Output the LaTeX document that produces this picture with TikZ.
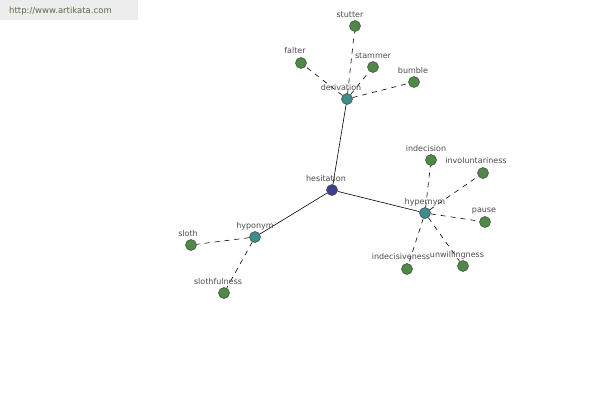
\documentclass[tikz,border=0pt]{standalone}
\usepackage{fontspec}
\setmainfont{DejaVu Sans}
\definecolor{leafgreen}{HTML}{4E8A46}
\definecolor{relteal}{HTML}{3E8C8C}
\definecolor{rootblue}{HTML}{3F3F8F}
\definecolor{urlgray}{HTML}{556B40}
\begin{document}
\begin{tikzpicture}[x=1pt,y=-1pt,
  dot/.style={circle,draw=black!75,line width=0.5pt,minimum size=11pt,inner sep=0pt},
  leaf/.style={dot,fill=leafgreen},
  rel/.style={dot,fill=relteal},
  root/.style={dot,fill=rootblue},
  lbl/.style={font=\fontsize{8}{9}\selectfont,text=black!70,inner sep=0pt},
  solidedge/.style={draw=black,line width=0.6pt},
  dashedge/.style={draw=black,line width=0.6pt,dash pattern=on 5pt off 5pt}]
\useasboundingbox (0,0) rectangle (600,400);
\fill[white] (0,0) rectangle (600,400);
\fill[black!7] (0,0) rectangle (138,20);
\node[lbl,anchor=west,text=urlgray,font=\fontsize{8.5}{9}\selectfont] (url) at (9,11) {http://www.artikata.com};
% nodes
\node[root] (hes) at (332,190) {};
\node[rel] (der) at (347,99) {};
\node[rel] (hyper) at (425,213) {};
\node[rel] (hypo) at (255,237) {};
\node[leaf] (stutter) at (355,26) {};
\node[leaf] (falter) at (301,63) {};
\node[leaf] (stammer) at (373,67) {};
\node[leaf] (bumble) at (414,82) {};
\node[leaf] (indecision) at (431,160) {};
\node[leaf] (invol) at (483,173) {};
\node[leaf] (pause) at (485,222) {};
\node[leaf] (indecisiv) at (407,269) {};
\node[leaf] (unwill) at (463,266) {};
\node[leaf] (sloth) at (191,245) {};
\node[leaf] (slothf) at (224,293) {};
% edges
\path[solidedge] (hes) -- (der);
\path[solidedge] (hes) -- (hyper);
\path[solidedge] (hes) -- (hypo);
\path[dashedge] (der) -- (stutter);
\path[dashedge] (der) -- (falter);
\path[dashedge] (der) -- (stammer);
\path[dashedge] (der) -- (bumble);
\path[dashedge] (hyper) -- (indecision);
\path[dashedge] (hyper) -- (invol);
\path[dashedge] (hyper) -- (pause);
\path[dashedge] (hyper) -- (indecisiv);
\path[dashedge] (hyper) -- (unwill);
\path[dashedge] (hypo) -- (sloth);
\path[dashedge] (hypo) -- (slothf);
% labels
\node[lbl] (l-hes) at (326,179) {hesitation};
\node[lbl] (l-der) at (341,88) {derivation};
\node[lbl] (l-hyper) at (425,202) {hypernym};
\node[lbl] (l-hypo) at (255,226) {hyponym};
\node[lbl] (l-stutter) at (350,15) {stutter};
\node[lbl] (l-falter) at (295,51) {falter};
\node[lbl] (l-stammer) at (373,56) {stammer};
\node[lbl] (l-bumble) at (413,71) {bumble};
\node[lbl] (l-indecision) at (426,149) {indecision};
\node[lbl] (l-invol) at (476,161) {involuntariness};
\node[lbl] (l-pause) at (484,211) {pause};
\node[lbl] (l-indecisiv) at (401,257) {indecisiveness};
\node[lbl] (l-unwill) at (457,255) {unwillingness};
\node[lbl] (l-sloth) at (188,234) {sloth};
\node[lbl] (l-slothf) at (218,282) {slothfulness};
\end{tikzpicture}
\end{document}
